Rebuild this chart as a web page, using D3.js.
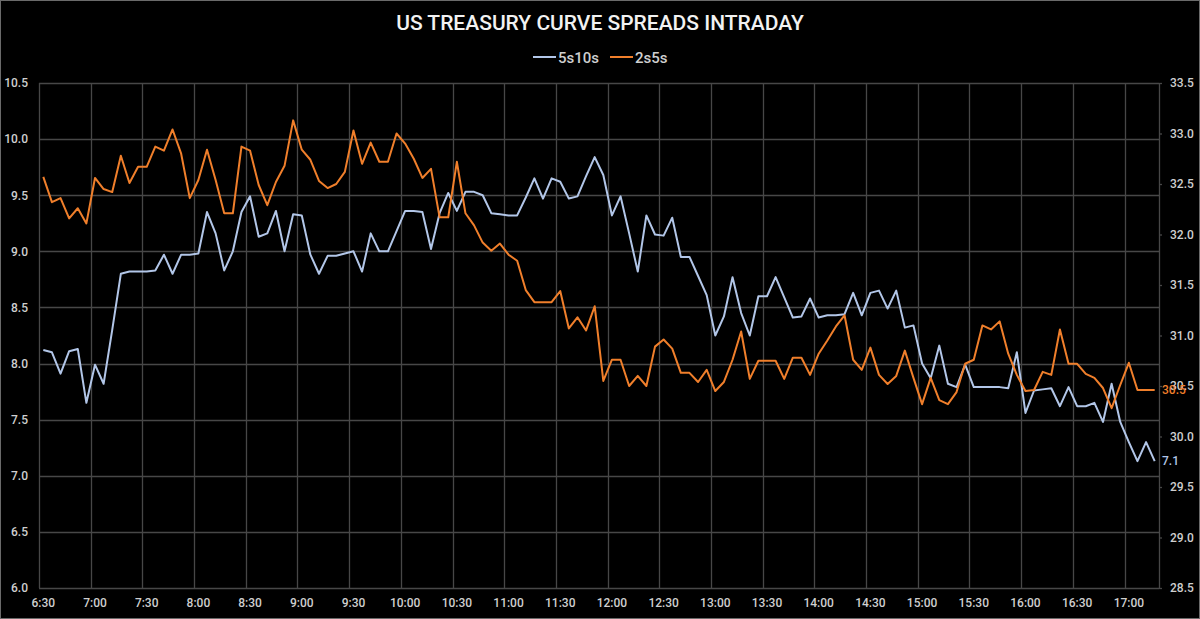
<!DOCTYPE html>
<html>
<head>
<meta charset="utf-8">
<script src="https://cdn.jsdelivr.net/npm/d3@7"></script>
<style>
  html, body { margin: 0; padding: 0; background: #000; }
  svg { display: block; }
  text { font-family: Roboto, "DejaVu Sans Condensed", sans-serif; }
</style>
</head>
<body>
<div id="chart"></div>
<script>
// US treasury curve spreads, 5-minute bars from 6:30 to 17:15

let startTime = "6:30";
let stepMinutes = 5;

let tickLabels = ["6:30","7:00","7:30","8:00","8:30","9:00","9:30","10:00","10:30",
  "11:00","11:30","12:00","12:30","13:00","13:30","14:00","14:30","15:00",
  "15:30","16:00","16:30","17:00"];

let seriesNames = ["5s10s", "2s5s"];

// 5s10s, left axis
let spread5s10s = [
  8.12, 8.10, 7.91, 8.11, 8.13, 7.65, 7.99, 7.82, 8.30, 8.80,
  8.82, 8.82, 8.82, 8.83, 8.97, 8.80, 8.97, 8.97, 8.98, 9.35,
  9.16, 8.83, 9.00, 9.35, 9.49, 9.13, 9.16, 9.36, 9.00, 9.33,
  9.32, 8.97, 8.80, 8.96, 8.96, 8.98, 9.00, 8.82, 9.16, 9.00,
  9.00, 9.18, 9.36, 9.36, 9.35, 9.02, 9.34, 9.52, 9.36, 9.53,
  9.53, 9.50, 9.34, 9.33, 9.32, 9.32, 9.48, 9.65, 9.47, 9.65,
  9.62, 9.47, 9.49, 9.67, 9.84, 9.68, 9.32, 9.49, 9.16, 8.82,
  9.32, 9.15, 9.14, 9.30, 8.95, 8.95, 8.78, 8.61, 8.25, 8.42,
  8.77, 8.45, 8.25, 8.60, 8.60, 8.77, 8.59, 8.41, 8.42, 8.58,
  8.41, 8.43, 8.43, 8.44, 8.63, 8.43, 8.63, 8.65, 8.49, 8.65,
  8.32, 8.34, 8.00, 7.87, 8.16, 7.82, 7.79, 7.99, 7.79, 7.79,
  7.79, 7.79, 7.78, 8.10, 7.56, 7.76, 7.77, 7.78, 7.62, 7.79,
  7.62, 7.62, 7.65, 7.48, 7.82, 7.48, 7.30, 7.13, 7.30, 7.13
];

// 2s5s, right axis
let spread2s5s = [
  32.57, 32.32, 32.36, 32.16, 32.26, 32.11, 32.56, 32.45, 32.42, 32.78,
  32.51, 32.67, 32.67, 32.87, 32.83, 33.04, 32.80, 32.36, 32.54, 32.84,
  32.54, 32.21, 32.21, 32.87, 32.83, 32.49, 32.29, 32.52, 32.68, 33.13,
  32.84, 32.74, 32.53, 32.46, 32.50, 32.62, 33.03, 32.70, 32.91, 32.72,
  32.72, 33.00, 32.90, 32.75, 32.56, 32.65, 32.17, 32.17, 32.72, 32.21,
  32.09, 31.92, 31.84, 31.91, 31.80, 31.74, 31.45, 31.33, 31.33, 31.33,
  31.44, 31.07, 31.18, 31.05, 31.29, 30.55, 30.76, 30.76, 30.50, 30.60,
  30.50, 30.89, 30.96, 30.87, 30.63, 30.63, 30.54, 30.66, 30.45, 30.54,
  30.76, 31.04, 30.57, 30.75, 30.75, 30.75, 30.57, 30.78, 30.78, 30.61,
  30.82, 30.95, 31.09, 31.20, 30.76, 30.66, 30.88, 30.61, 30.52, 30.60,
  30.85, 30.58, 30.32, 30.58, 30.36, 30.32, 30.44, 30.72, 30.76, 31.10,
  31.06, 31.14, 30.82, 30.61, 30.45, 30.46, 30.64, 30.61, 31.06, 30.72,
  30.72, 30.62, 30.58, 30.48, 30.28, 30.51, 30.73, 30.46, 30.46, 30.46
];

let leftTicks  = [6.0, 6.5, 7.0, 7.5, 8.0, 8.5, 9.0, 9.5, 10.0, 10.5];
let rightTicks = [28.5, 29.0, 29.5, 30.0, 30.5, 31.0, 31.5, 32.0, 32.5, 33.0, 33.5];

////////////////////////////////////////////////////////////////////////
// layout

let width = 1200, height = 619;
let margin = { left: 39, right: 41, top: 83, bottom: 31 };
let gridColor = "#474747";
let textColor = "#cfcfcf";
let blue = "#b2c6e8";
let orange = "#f07f2b";

// category labels, one per 5-minute bar
let t0 = d3.timeParse("%H:%M")(startTime);
let times = spread5s10s.map((d, i) => d3.timeFormat("%-H:%M")(d3.timeMinute.offset(t0, i * stepMinutes)));

let xScale = d3.scaleBand()
  .domain(times)
  .range([margin.left, width - margin.right])
  .padding(0);
let bw = xScale.bandwidth();
let xMid = t => xScale(t) + bw / 2;

let yLeft = d3.scaleLinear().domain([6, 10.5]).range([height - margin.bottom, margin.top]);
let yRight = d3.scaleLinear().domain([28.5, 33.5]).range([height - margin.bottom, margin.top]);

let svg = d3.select("#chart").append("svg")
  .attr("width", width)
  .attr("height", height);

svg.append("rect")
  .attr("x", 0.5).attr("y", 0.5)
  .attr("width", width - 1).attr("height", height - 1)
  .attr("fill", "#000")
  .attr("stroke", "#6a6a6a");

// horizontal gridlines from left axis
svg.append("g")
  .selectAll("line")
  .data(leftTicks)
  .enter()
  .append("line")
  .attr("x1", margin.left).attr("x2", width - margin.right)
  .attr("y1", d => Math.round(yLeft(d)) + 0.5)
  .attr("y2", d => Math.round(yLeft(d)) + 0.5)
  .attr("stroke", gridColor)
  .attr("stroke-width", 1.3);

// vertical gridlines at each half hour (category boundaries)
svg.append("g")
  .selectAll("line")
  .data(tickLabels)
  .enter()
  .append("line")
  .attr("x1", d => Math.round(xScale(d)) + 0.5)
  .attr("x2", d => Math.round(xScale(d)) + 0.5)
  .attr("y1", margin.top).attr("y2", height - margin.bottom)
  .attr("stroke", gridColor)
  .attr("stroke-width", 1.3);

// right axis line
svg.append("line")
  .attr("x1", width - margin.right + 0.5).attr("x2", width - margin.right + 0.5)
  .attr("y1", margin.top).attr("y2", height - margin.bottom)
  .attr("stroke", gridColor)
  .attr("stroke-width", 1.3);

// left axis
let axL = svg.append("g")
  .attr("transform", "translate(" + margin.left + ",0)")
  .call(d3.axisLeft(yLeft).tickValues(leftTicks).tickFormat(d3.format(".1f")).tickSize(0).tickPadding(11));
axL.select(".domain").remove();

// right axis
let axR = svg.append("g")
  .attr("transform", "translate(" + (width - margin.right) + ",0)")
  .call(d3.axisRight(yRight).tickValues(rightTicks).tickFormat(d3.format(".1f")).tickSize(3).tickPadding(8));
axR.select(".domain").remove();
axR.selectAll("line").attr("stroke", gridColor).attr("stroke-width", 1.3);

// bottom axis
let axB = svg.append("g")
  .attr("transform", "translate(0," + (height - margin.bottom) + ")")
  .call(d3.axisBottom(xScale).tickValues(tickLabels).tickSize(0).tickPadding(10));
axB.select(".domain").remove();

svg.selectAll(".tick text")
  .attr("fill", textColor)
  .style("font-size", "12px")
  .style("font-weight", "500")
  .style("font-family", "Roboto, sans-serif");

// lines
let lineLeft = d3.line()
  .x((d, i) => xMid(times[i]))
  .y(d => yLeft(d));
let lineRight = d3.line()
  .x((d, i) => xMid(times[i]))
  .y(d => yRight(d));

svg.append("path")
  .datum(spread5s10s)
  .attr("d", lineLeft)
  .attr("fill", "none")
  .attr("stroke", blue)
  .attr("stroke-width", 2)
  .attr("stroke-linejoin", "round");

svg.append("path")
  .datum(spread2s5s)
  .attr("d", lineRight)
  .attr("fill", "none")
  .attr("stroke", orange)
  .attr("stroke-width", 2)
  .attr("stroke-linejoin", "round");

// end-of-line value labels
let last = times.length - 1;
svg.append("text")
  .attr("x", width - margin.right + 3)
  .attr("y", yRight(spread2s5s[last]))
  .attr("dy", "0.35em")
  .attr("fill", orange)
  .style("font-size", "12px")
  .style("font-weight", "500")
  .text(d3.format(".1f")(spread2s5s[last]));
svg.append("text")
  .attr("x", width - margin.right + 3)
  .attr("y", yLeft(spread5s10s[last]))
  .attr("dy", "0.35em")
  .attr("fill", blue)
  .style("font-size", "12px")
  .style("font-weight", "500")
  .text(d3.format(".1f")(spread5s10s[last]));

// title
svg.append("text")
  .attr("x", width / 2)
  .attr("y", 30)
  .attr("text-anchor", "middle")
  .attr("fill", "#f2f2f2")
  .style("font-size", "21px")
  .style("font-weight", "500")
  .text("US TREASURY CURVE SPREADS INTRADAY");

// legend
let legend = svg.append("g");
let legendItems = [
  { name: seriesNames[0], color: blue, x: 533 },
  { name: seriesNames[1], color: orange, x: 610 }
];
legendItems.forEach(function(d) {
  legend.append("line")
    .attr("x1", d.x).attr("x2", d.x + 23)
    .attr("y1", 57).attr("y2", 57)
    .attr("stroke", d.color)
    .attr("stroke-width", 2);
  legend.append("text")
    .attr("x", d.x + 25)
    .attr("y", 62.5)
    .attr("fill", textColor)
    .style("font-size", "15px")
    .style("font-weight", "500")
    .text(d.name);
});
</script>
</body>
</html>
